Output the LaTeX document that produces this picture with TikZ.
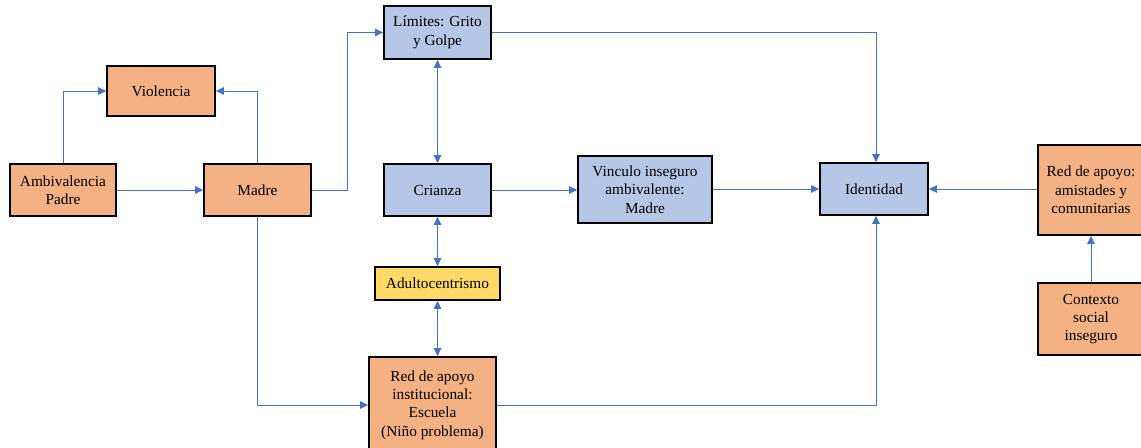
\documentclass[tikz,border=0pt]{standalone}
\usepackage{fontspec}
\setmainfont{Liberation Serif}
\usetikzlibrary{arrows.meta}
\definecolor{boxorange}{HTML}{F4B183}
\definecolor{boxblue}{HTML}{B4C7E7}
\definecolor{boxyellow}{HTML}{FFD966}
\definecolor{linkblue}{HTML}{4472C4}
\tikzset{
  box/.style={draw=black, line width=1.2pt, rectangle, inner sep=0pt, align=center,
    font=\fontsize{11.5}{13.8}\selectfont},
  orangebox/.style={box, fill=boxorange},
  bluebox/.style={box, fill=boxblue},
  yellowbox/.style={box, fill=boxyellow},
  link/.style={draw=linkblue, line width=0.75pt, -{Triangle[length=6pt,width=5.5pt]}},
  twolink/.style={draw=linkblue, line width=0.75pt, {Triangle[length=6pt,width=5.5pt]}-{Triangle[length=6pt,width=5.5pt]}}
}
\begin{document}
\begin{tikzpicture}[x=0.75pt,y=-0.75pt]
\useasboundingbox (0,0) rectangle (1141,447);
\clip (0,0) rectangle (1141,447);
\fill[white] (0,0) rectangle (1141,447);

% family and upbringing
\node[orangebox, minimum width=81pt, minimum height=37.5pt] (viol) at (161,91) {Violencia};
\node[orangebox, minimum width=79.5pt, minimum height=39pt] (amb) at (63,190) {Ambivalencia\\Padre};
\node[orangebox, minimum width=80.25pt, minimum height=39pt] (madre) at (257.5,190) {Madre};
\node[bluebox, minimum width=80.25pt, minimum height=39.75pt] (lim) at (437.5,32.5) {Límites: Grito\\y Golpe};
\node[bluebox, minimum width=80.25pt, minimum height=39pt] (crianza) at (437.5,190) {Crianza};
\node[bluebox, minimum width=100.5pt, minimum height=50.25pt] (vinc) at (645,189.5) {Vinculo inseguro\\ambivalente:\\Madre};
\node[bluebox, minimum width=81pt, minimum height=39pt] (ident) at (874,189) {Identidad};
\node[yellowbox, minimum width=93.75pt, minimum height=24.75pt] (adult) at (437.5,283.5) {Adultocentrismo};
\node[orangebox, minimum width=95.25pt, minimum height=72pt] (redinst) at (432.5,405) {Red de apoyo\\institucional:\\Escuela\\(Niño problema)};

% social context
\node[orangebox, minimum width=79.5pt, minimum height=67.5pt] (redam) at (1091,190) {Red de apoyo:\\amistades y\\comunitarias};
\node[orangebox, minimum width=79.5pt, minimum height=54pt] (ctx) at (1091,319) {Contexto\\social\\inseguro};

% connectors
\draw[link] (amb.north) |- (viol.west);
\draw[link] (madre.north) |- (viol.east);
\draw[link] (amb.east) -- (madre.west);
\draw[link] (madre.east) -- ++(36,0) |- (lim.west);
\draw[twolink] (lim.south) -- (crianza.north);
\draw[link] (crianza.east) -- (crianza.east -| vinc.west);
\draw[link] (vinc.east |- ident.west) -- (ident.west);
\draw[link] (lim.east) -| ([xshift=1.5pt]ident.north);
\draw[link] (redam.west |- ident.east) -- (ident.east);
\draw[link] (ctx.north) -- (redam.south);
\draw[twolink] (crianza.south) -- (adult.north);
\draw[twolink] (adult.south) -- (adult.south |- redinst.north);
\draw[link] (madre.south) |- (redinst.west);
\draw[link] (redinst.east) -| ([xshift=1.5pt]ident.south);
\end{tikzpicture}
\end{document}
